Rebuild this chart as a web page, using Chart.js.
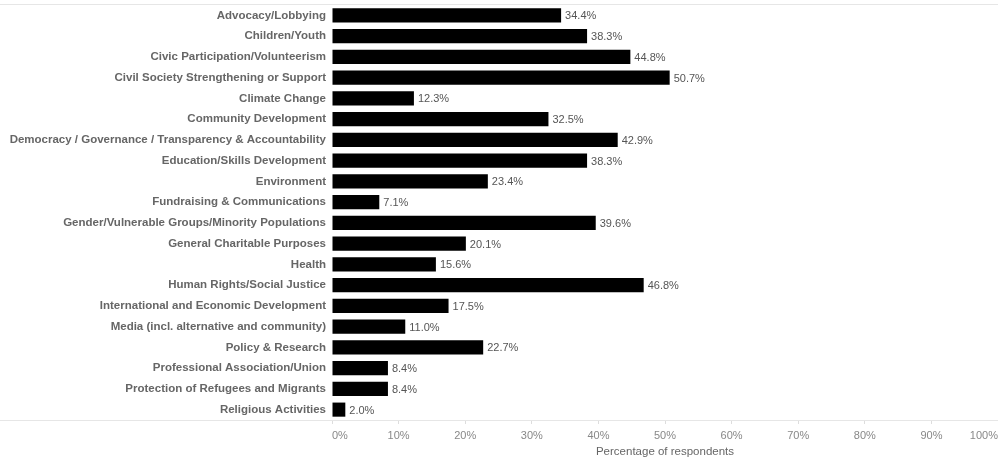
<!DOCTYPE html>
<html>
<head>
<meta charset="utf-8">
<script src="https://cdn.jsdelivr.net/npm/chart.js@4"></script>
<style>
  html, body { margin: 0; padding: 0; background: #fff; }
  #wrap { width: 998px; height: 462px; }
</style>
</head>
<body>
<div id="wrap"><canvas id="areasChart"></canvas></div>
<script>
// Focus areas and share of respondents (%)
const categories = [
    'Advocacy/Lobbying',
    'Children/Youth',
    'Civic Participation/Volunteerism',
    'Civil Society Strengthening or Support',
    'Climate Change',
    'Community Development',
    'Democracy / Governance / Transparency & Accountability',
    'Education/Skills Development',
    'Environment',
    'Fundraising & Communications',
    'Gender/Vulnerable Groups/Minority Populations',
    'General Charitable Purposes',
    'Health',
    'Human Rights/Social Justice',
    'International and Economic Development',
    'Media (incl. alternative and community)',
    'Policy & Research',
    'Professional Association/Union',
    'Protection of Refugees and Migrants',
    'Religious Activities'
];
const percentages = [34.4, 38.3, 44.8, 50.7, 12.3, 32.5, 42.9, 38.3, 23.4, 7.1,
    39.6, 20.1, 15.6, 46.8, 17.5, 11.0, 22.7, 8.4, 8.4, 2.0];
const xTicks = [0, 10, 20, 30, 40, 50, 60, 70, 80, 90, 100];

const fontFamily = '"Liberation Sans", Arial, sans-serif';

// Writes the value next to the end of each bar
const valueLabels = {
    id: 'valueLabels',
    afterDatasetsDraw(chart) {
        const ctx = chart.ctx;
        const meta = chart.getDatasetMeta(0);
        ctx.save();
        ctx.font = '11px ' + fontFamily;
        ctx.fillStyle = '#555';
        ctx.textAlign = 'left';
        ctx.textBaseline = 'middle';
        meta.data.forEach((bar, i) => {
            ctx.fillText(percentages[i].toFixed(1) + '%', bar.x + 4, bar.y + 1);
        });
        ctx.restore();
    }
};

// Thin rules across the whole width at the top and bottom of the plot
const frameLines = {
    id: 'frameLines',
    beforeDatasetsDraw(chart) {
        const { ctx, chartArea, width } = chart;
        ctx.save();
        ctx.strokeStyle = '#e6e6e6';
        ctx.lineWidth = 1;
        ctx.beginPath();
        ctx.moveTo(0, Math.round(chartArea.top) - 0.5);
        ctx.lineTo(width, Math.round(chartArea.top) - 0.5);
        ctx.moveTo(0, Math.round(chartArea.bottom) + 0.5);
        ctx.lineTo(width, Math.round(chartArea.bottom) + 0.5);
        ctx.stroke();
        ctx.restore();
    }
};

const ctx = document.getElementById('areasChart').getContext('2d');
const areasChart = new Chart(ctx, {
    type: 'bar',
    data: {
        labels: categories,
        datasets: [{
            label: 'Percentage of respondents',
            data: percentages,
            backgroundColor: '#000',
            borderWidth: 0,
            barPercentage: 0.68,
            categoryPercentage: 1
        }]
    },
    options: {
        indexAxis: 'y',
        responsive: true,
        maintainAspectRatio: false,
        animation: false,
        layout: { padding: { top: 5, right: 0, left: 0, bottom: 0 } },
        plugins: {
            legend: { display: false },
            tooltip: { enabled: false }
        },
        scales: {
            x: {
                min: 0,
                max: 100,
                afterBuildTicks: (scale) => {
                    scale.ticks = xTicks.map(v => ({ value: v }));
                },
                afterFit: (scale) => {
                    scale.height = 42;
                    scale.paddingLeft = 0;
                    scale.paddingRight = 0;
                },
                border: { display: false },
                grid: {
                    drawOnChartArea: false,
                    drawTicks: true,
                    tickLength: 4,
                    color: '#ddd'
                },
                ticks: {
                    align: 'inner',
                    padding: 5,
                    color: '#888',
                    font: { family: fontFamily, size: 11 },
                    callback: (v) => v + '%'
                },
                title: {
                    display: true,
                    text: 'Percentage of respondents',
                    color: '#666',
                    padding: { top: 0, bottom: 3 },
                    font: { family: fontFamily, size: 11.5 }
                }
            },
            y: {
                afterFit: (scale) => {
                    scale.width = 332;
                    scale.paddingTop = 0;
                    scale.paddingBottom = 0;
                },
                border: { display: false },
                grid: { display: false, drawTicks: false },
                ticks: {
                    padding: 6,
                    color: '#666',
                    font: { family: fontFamily, size: 11.5, weight: 'bold' }
                }
            }
        }
    },
    plugins: [frameLines, valueLabels]
});
</script>
</body>
</html>
